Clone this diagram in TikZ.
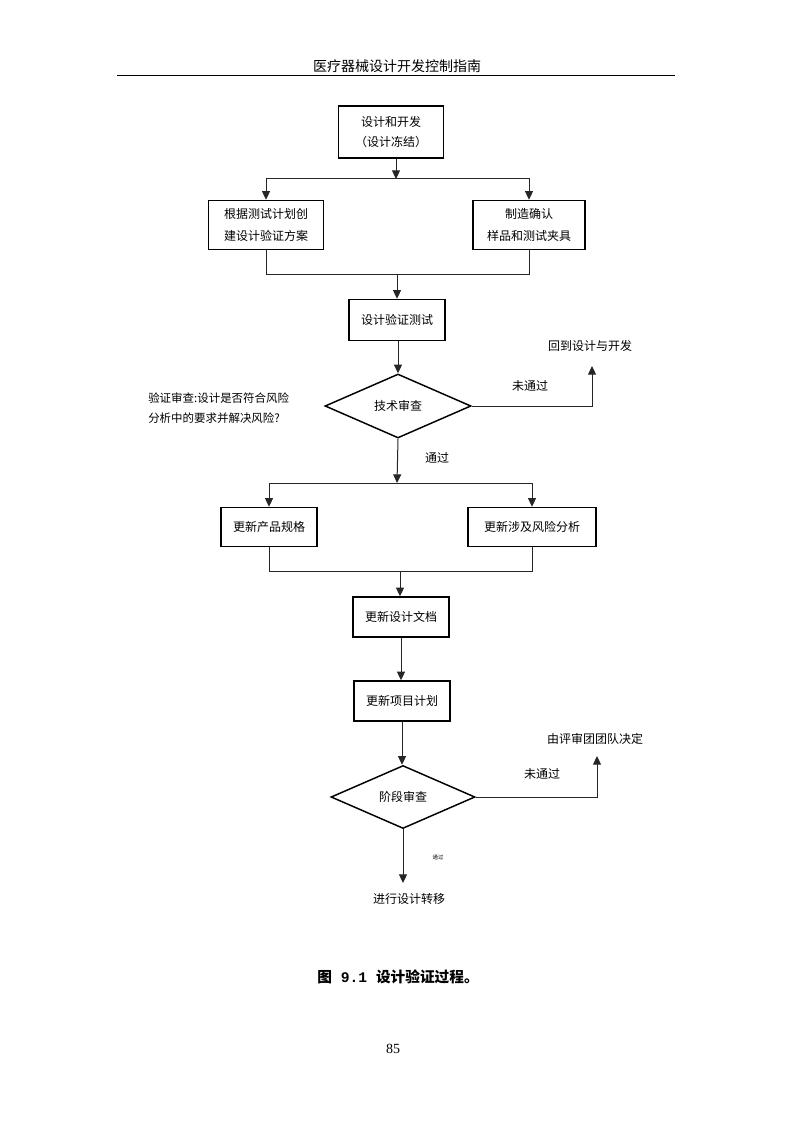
\documentclass[tikz,border=0pt]{standalone}
\usepackage{fontspec}
\setmainfont{Liberation Serif}
\newfontfamily\cjk{Noto Sans CJK SC}
\newfontfamily\digits{Liberation Mono}
\usetikzlibrary{arrows.meta}
\usetikzlibrary{shapes.geometric}
\tikzset{
    procbox/.style={draw=black, line width=1.1pt, align=center, inner sep=0pt, font=\cjk\fontsize{9}{15}\selectfont},
    decision/.style={draw=black, line width=1.1pt, diamond, inner sep=0pt, font=\cjk\fontsize{9}{15}\selectfont},
    conn/.style={draw=black!85, line width=0.75pt},
    arr/.style={conn, -{Triangle[width=6pt,length=6.5pt]}},
    plain/.style={inner sep=0pt, font=\cjk\fontsize{9}{15}\selectfont}
}
\begin{document}
\begin{tikzpicture}[x=0.75pt, y=-0.75pt]
    \useasboundingbox (0,0) rectangle (794,1123);
    % page header
    \node[plain, font=\cjk\fontsize{10.5}{12}\selectfont] (header) at (397,66) {医疗器械设计开发控制指南};
    \coordinate (ruleL) at (117,76);
    \coordinate (ruleR) at (675,76);
    \draw [line width=0.75pt] (ruleL) -- (ruleR);
    % first stage
    \node[procbox, minimum width=78.75pt, minimum height=39pt] (freeze) at (391,132) {设计和开发\\（设计冻结）};
    \node[procbox, minimum width=86.25pt, minimum height=36.75pt, font=\cjk\fontsize{9}{17}\selectfont] (plan) at (266,225) {根据测试计划创\\建设计验证方案};
    \node[procbox, minimum width=84pt, minimum height=36.75pt, font=\cjk\fontsize{9}{17}\selectfont] (sample) at (529,225) {制造确认\\样品和测试夹具};
    \node[procbox, minimum width=72pt, minimum height=30.75pt] (vtest) at (397,320) {设计验证测试};
    \coordinate (splitA) at (396,179);
    \coordinate (mergeA) at (397,274);
    \draw [arr] (freeze.south -| splitA) -- (splitA);
    \draw [arr] (splitA) -| (plan.north);
    \draw [arr] (splitA) -| (sample.north);
    \draw [conn] (plan.south) |- (mergeA);
    \draw [conn] (sample.south) |- (mergeA);
    \draw [arr] (mergeA) -- (vtest.north -| mergeA);
    % technical review
    \node[decision, minimum width=109.5pt, minimum height=48pt, aspect=2.28] (tech) at (398,406) {技术审查};
    \draw [arr] (vtest.south -| tech.north) -- (tech.north);
    \node[plain, anchor=west, align=left, font=\cjk\fontsize{8.6}{15}\selectfont] (note) at (148,408) {验证审查:设计是否符合风险\\分析中的要求并解决风险?};
    \node[plain] (back) at (590,346) {回到设计与开发};
    \coordinate (backend) at (592,366);
    \draw [arr] (tech.east) -| (backend);
    \node[plain] (failA) at (530,386) {未通过};
    \node[plain] (passA) at (437,458) {通过};
    % updates
    \node[procbox, minimum width=72pt, minimum height=29.25pt] (spec) at (269,527) {更新产品规格};
    \node[procbox, minimum width=96pt, minimum height=29.25pt] (risk) at (532,527) {更新涉及风险分析};
    \node[procbox, minimum width=72pt, minimum height=30pt] (docs) at (401,617) {更新设计文档};
    \node[procbox, minimum width=72pt, minimum height=30pt] (proj) at (402,701) {更新项目计划};
    \coordinate (splitB) at (397,483);
    \coordinate (mergeB) at (400,571);
    \draw [arr] (tech.south) -- (splitB);
    \draw [arr] (splitB) -| (spec.north);
    \draw [arr] (splitB) -| (risk.north);
    \draw [conn] (spec.south) |- (mergeB);
    \draw [conn] (risk.south) |- (mergeB);
    \draw [arr] (mergeB) -- (docs.north -| mergeB);
    \draw [arr] (docs.south) -- (docs.south |- proj.north);
    % phase review
    \node[decision, minimum width=108pt, minimum height=47.25pt, aspect=2.28] (phase) at (403,797) {阶段审查};
    \draw [arr] (proj.south) -- (proj.south |- phase.north);
    \node[plain] (board) at (595,739) {由评审团团队决定};
    \coordinate (boardend) at (597,756);
    \draw [arr] (phase.east) -| (boardend);
    \node[plain] (failB) at (542,774) {未通过};
    \node[plain, font=\cjk\fontsize{4}{5}\selectfont] (passB) at (438,857) {通过};
    \node[plain] (transfer) at (409,899) {进行设计转移};
    \coordinate (transend) at (403,883);
    \draw [arr] (phase.south) -- (transend);
    % caption and page number
    \node[plain, font=\cjk\bfseries\fontsize{11}{12}\selectfont] (caption) at (398,977) {图\hspace{0.6em}{\digits\bfseries 9.1}\hspace{0.6em}设计验证过程。};
    \node[inner sep=0pt, font=\fontsize{10.5}{12}\selectfont] (pageno) at (393,1049) {85};
\end{tikzpicture}
\end{document}
